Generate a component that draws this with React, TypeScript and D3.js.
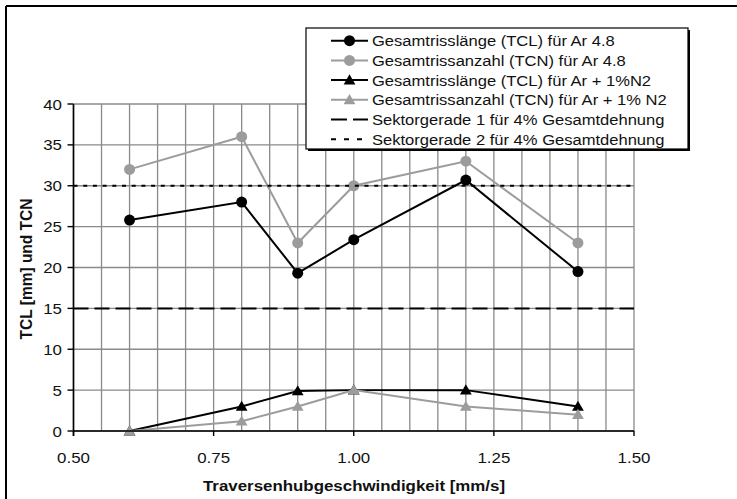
import * as d3 from "d3";
import React from "react";

// measured values (x = Traversenhubgeschwindigkeit in mm/s)
const speeds = [0.6, 0.8, 0.9, 1.0, 1.2, 1.4];
const tclAr = [25.8, 28, 19.3, 23.4, 30.7, 19.5];
const tcnAr = [32, 36, 23, 30, 33, 23];
const tclN2 = [0, 3, 4.9, 5, 5, 3];
const tcnN2 = [0, 1.2, 3, 5, 3, 2];

const sektorX = [0.5, 1.5];
const sektor1 = [15, 15];
const sektor2 = [30, 30];

const xTicks = [0.5, 0.75, 1.0, 1.25, 1.5];
const xTickLabels = ["0.50", "0.75", "1.00", "1.25", "1.50"];
const yTicks = [0, 5, 10, 15, 20, 25, 30, 35, 40];

const GRAY = "#9c9c9c";
const GRID = "#8a8a8a";
const SX = 1.09; // the picture is a bit wider than tall

const series = [
  { name: "Gesamtrisslänge (TCL) für Ar 4.8", xs: speeds, ys: tclAr, color: "#000", marker: "circle" },
  { name: "Gesamtrissanzahl (TCN) für Ar 4.8", xs: speeds, ys: tcnAr, color: GRAY, marker: "circle" },
  { name: "Gesamtrisslänge (TCL) für Ar + 1%N2", xs: speeds, ys: tclN2, color: "#000", marker: "triangle" },
  { name: "Gesamtrissanzahl (TCN) für Ar + 1% N2", xs: speeds, ys: tcnN2, color: GRAY, marker: "triangle" },
  { name: "Sektorgerade 1 für 4% Gesamtdehnung", xs: sektorX, ys: sektor1, color: "#000", marker: null, dash: "15,6", ldash: "16,6" },
  { name: "Sektorgerade 2 für 4% Gesamtdehnung", xs: sektorX, ys: sektor2, color: "#000", marker: null, dash: "4,5.7", ldash: "5,8" },
];

const Marker = ({ type, x, y, color }: any) => {
  if (type === "circle") return <circle cx={x} cy={y} r={5.5} fill={color} />;
  if (type === "triangle") {
    const tri = d3.symbol().type(d3.symbolTriangle).size(60)();
    return <path d={tri} transform={`translate(${x},${y + 1})`} fill={color} />;
  }
  return null;
};

const Txt = ({ x, y, anchor = "start", size = 15.5, weight = "normal", rotate = 0, children }: any) => (
  <text
    transform={`translate(${x},${y}) scale(${SX},1)${rotate ? ` rotate(${rotate})` : ""}`}
    textAnchor={anchor}
    fontSize={size}
    fontWeight={weight}
    fontFamily="'Liberation Sans', Arial, sans-serif"
    fill="#111"
  >
    {children}
  </text>
);

export default function App() {
  const x = d3.scaleLinear().domain([0.5, 1.5]).range([73.5, 634]);
  const y = d3.scaleLinear().domain([0, 40]).range([431, 104]);
  const line = d3
    .line<[number, number]>()
    .x((d) => x(d[0]))
    .y((d) => y(d[1]));

  const vGrid = x.ticks(20);
  const legX = 306, legY = 28, legW = 382, legH = 121;

  return (
    <svg width={737} height={499} style={{ position: "absolute", left: 0, top: 0, background: "#fff" }}>
      {/* frame of the scanned figure */}
      <line x1={6} y1={6} x2={737} y2={6} stroke="#000" strokeWidth={2} />
      <line x1={6} y1={6} x2={6} y2={499} stroke="#000" strokeWidth={2} />

      {/* grid */}
      {vGrid.map((v) => (
        <line key={"v" + v} x1={x(v)} x2={x(v)} y1={y(40)} y2={y(0)} stroke={GRID} strokeWidth={1.3} />
      ))}
      {yTicks.map((v) => (
        <line key={"h" + v} x1={x(0.5)} x2={x(1.5)} y1={y(v)} y2={y(v)} stroke={GRID} strokeWidth={1.3} />
      ))}

      {/* series */}
      {series.map((s, i) => (
        <g key={i}>
          <path
            d={line(s.xs.map((v, j) => [v, s.ys[j]]) as any) as string}
            fill="none"
            stroke={s.color}
            strokeWidth={2}
            strokeDasharray={s.dash}
          />
          {s.marker &&
            s.xs.map((v, j) => <Marker key={j} type={s.marker} x={x(v)} y={y(s.ys[j])} color={s.color} />)}
        </g>
      ))}

      {/* axes */}
      <line x1={x(0.5)} x2={x(0.5)} y1={y(40)} y2={y(0) + 5} stroke="#000" strokeWidth={1.6} />
      <line x1={x(0.5)} x2={x(1.5)} y1={y(0)} y2={y(0)} stroke="#000" strokeWidth={1.6} />
      {yTicks.map((v) => (
        <g key={"yt" + v}>
          <line x1={x(0.5) - 6} x2={x(0.5)} y1={y(v)} y2={y(v)} stroke="#000" strokeWidth={1.4} />
          <Txt x={62} y={y(v) + 5.5} anchor="end">{v}</Txt>
        </g>
      ))}
      {xTicks.map((v, i) => (
        <g key={"xt" + v}>
          <line x1={x(v)} x2={x(v)} y1={y(0)} y2={y(0) + 5} stroke="#000" strokeWidth={1.4} />
          <Txt x={x(v)} y={462.5} anchor="middle">{xTickLabels[i]}</Txt>
        </g>
      ))}
      <Txt x={354} y={491} anchor="middle" weight="bold">Traversenhubgeschwindigkeit [mm/s]</Txt>
      <Txt x={31.5} y={269} anchor="middle" weight="bold" rotate={-90}>TCL [mm] und TCN</Txt>

      {/* legend */}
      <rect x={legX + 2} y={legY + 2} width={legW} height={legH} fill="#000" />
      <rect x={legX} y={legY} width={legW} height={legH} fill="#fff" stroke="#000" strokeWidth={1.2} />
      {series.map((s, i) => {
        const cy = 40.7 + i * 19.7;
        return (
          <g key={"l" + i}>
            <line x1={331} x2={368} y1={cy} y2={cy} stroke={s.color} strokeWidth={2} strokeDasharray={s.ldash} />
            {s.marker && <Marker type={s.marker} x={349.5} y={cy} color={s.color} />}
            <Txt x={372} y={cy + 5.5} size={15.2}>{s.name}</Txt>
          </g>
        );
      })}
    </svg>
  );
}
